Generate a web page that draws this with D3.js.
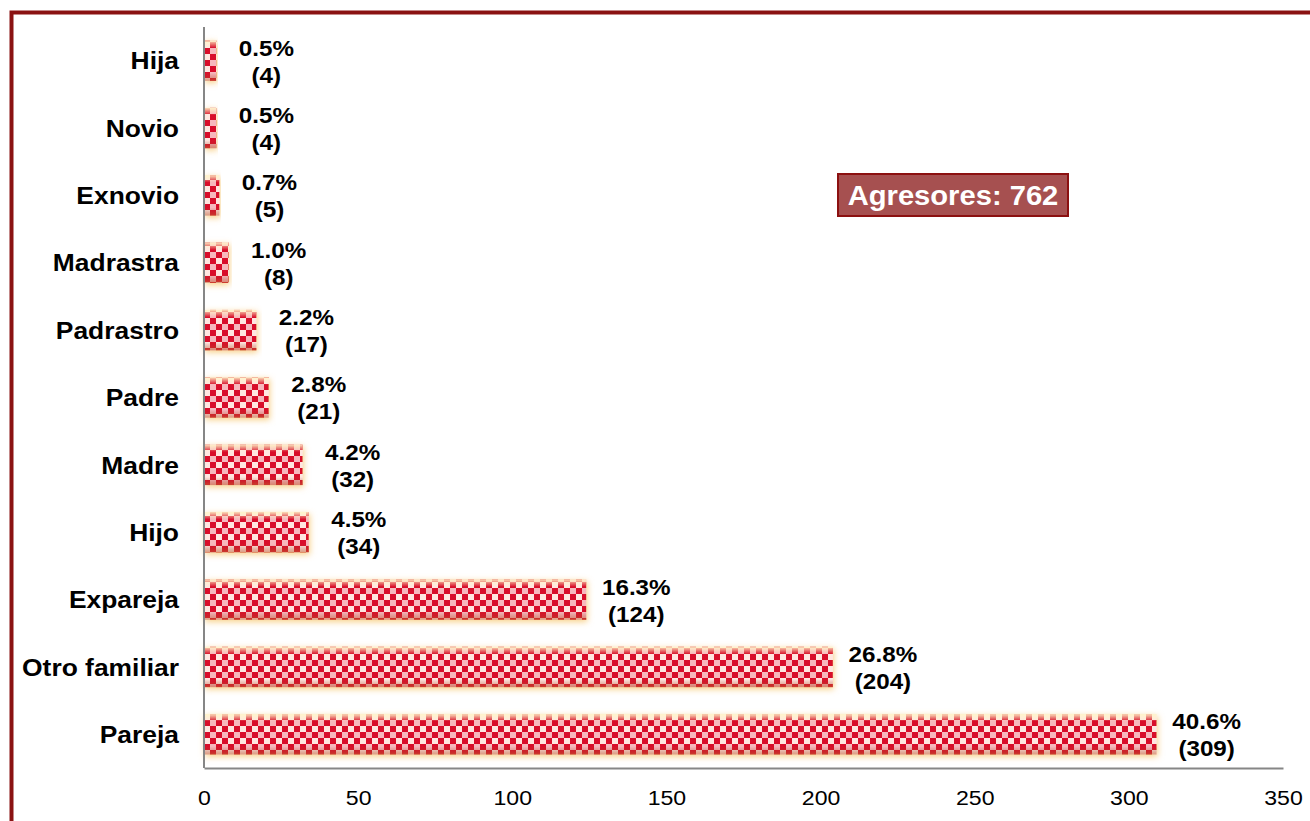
<html>
<head>
  <title>Agresores</title>
  <script src="https://d3js.org/d3.v7.min.js"></script>
  <style>
    body { margin: 0; background: #fff; }
    text { font-family: "Liberation Sans", Arial, sans-serif; }
  </style>
</head>
<body>
  <div id="vis"></div>
  <script type="text/javascript">

    // data
    var categories = ['Pareja', 'Otro familiar', 'Expareja', 'Hijo', 'Madre', 'Padre', 'Padrastro', 'Madrastra', 'Exnovio', 'Novio', 'Hija'];
    var counts = [309, 204, 124, 34, 32, 21, 17, 8, 5, 4, 4];
    var percents = ['40.6%', '26.8%', '16.3%', '4.5%', '4.2%', '2.8%', '2.2%', '1.0%', '0.7%', '0.5%', '0.5%'];
    var xTicks = [0, 50, 100, 150, 200, 250, 300, 350];
    var totalLabel = 'Agresores: 762';

    var data = categories.map(function(c, i) {
      return { name: c, count: counts[i], pct: percents[i] };
    });

    var W = 1310, H = 821;
    var plot = { left: 204, right: 1283, top: 27, bottom: 768 };
    var stretch = 1.1; // the original text is a bit wider than Arial

    var svg = d3.select('#vis').append('svg')
      .attr('width', W)
      .attr('height', H);

    var defs = svg.append('defs');

    // checker pattern for the bars
    var pat = defs.append('pattern')
      .attr('id', 'checker')
      .attr('patternUnits', 'userSpaceOnUse')
      .attr('x', plot.left).attr('y', 0)
      .attr('width', 12).attr('height', 12);
    pat.append('rect').attr('width', 12).attr('height', 12).attr('fill', '#ffe6e0');
    pat.append('rect').attr('x', 0).attr('y', 0).attr('width', 6).attr('height', 6).attr('fill', '#d8112c');
    pat.append('rect').attr('x', 6).attr('y', 6).attr('width', 6).attr('height', 6).attr('fill', '#d8112c');
    pat.append('rect').attr('x', 6).attr('y', 0).attr('width', 6).attr('height', 6).attr('fill', '#f7b8bd');

    var shade = defs.append('linearGradient')
      .attr('id', 'shade')
      .attr('x1', 0).attr('y1', 0).attr('x2', 0).attr('y2', 1);
    shade.append('stop').attr('offset', '0%').attr('stop-color', '#fff6c8').attr('stop-opacity', 0.9);
    shade.append('stop').attr('offset', '18%').attr('stop-color', '#fff6c8').attr('stop-opacity', 0);
    shade.append('stop').attr('offset', '80%').attr('stop-color', '#a03020').attr('stop-opacity', 0);
    shade.append('stop').attr('offset', '100%').attr('stop-color', '#c06030').attr('stop-opacity', 0.55);

    var glow = defs.append('filter')
      .attr('id', 'glow')
      .attr('x', '-10%').attr('y', '-40%').attr('width', '120%').attr('height', '180%');
    glow.append('feFlood').attr('flood-color', '#f6c46a').attr('flood-opacity', 0.8).attr('result', 'c');
    glow.append('feComposite').attr('in', 'c').attr('in2', 'SourceAlpha').attr('operator', 'in').attr('result', 'cs');
    glow.append('feGaussianBlur').attr('in', 'cs').attr('stdDeviation', 3).attr('result', 'b');
    glow.append('feOffset').attr('in', 'b').attr('dx', 1).attr('dy', 2).attr('result', 'bo');
    var merge = glow.append('feMerge');
    merge.append('feMergeNode').attr('in', 'bo');
    merge.append('feMergeNode').attr('in', 'SourceGraphic');

    // frame
    svg.append('rect')
      .attr('x', 11.5).attr('y', 12.5)
      .attr('width', W + 20).attr('height', H + 20)
      .attr('fill', 'none')
      .attr('stroke', '#8a1212')
      .attr('stroke-width', 4);

    // scales
    var x = d3.scaleLinear().domain([0, 350]).range([plot.left, plot.right]);
    var y = d3.scaleBand()
      .domain(categories.slice().reverse())
      .range([plot.top, plot.bottom])
      .paddingInner(0.4)
      .paddingOuter(0.2);

    // bars
    var bars = svg.selectAll('g.bar')
      .data(data)
      .enter().append('g')
      .attr('class', 'bar')
      .attr('filter', 'url(#glow)');

    bars.append('rect')
      .attr('x', x(0))
      .attr('y', function(d) { return y(d.name); })
      .attr('width', function(d) { return x(d.count) - x(0); })
      .attr('height', y.bandwidth())
      .attr('fill', 'url(#checker)');

    bars.append('rect')
      .attr('x', x(0))
      .attr('y', function(d) { return y(d.name); })
      .attr('width', function(d) { return x(d.count) - x(0); })
      .attr('height', y.bandwidth())
      .attr('fill', 'url(#shade)');

    // axes
    var xAxis = d3.axisBottom(x).tickValues(xTicks).tickSize(0).tickPadding(22);
    var gx = svg.append('g')
      .attr('transform', 'translate(0,' + plot.bottom + ')')
      .call(xAxis);
    gx.select('.domain').attr('stroke', '#868686').attr('stroke-width', 2);
    gx.selectAll('text')
      .attr('fill', '#000')
      .attr('transform', 'scale(' + stretch + ',1)')
      .attr('x', function(d) { return 0; })
      .style('font-size', '21px')
      .style('font-family', '"Liberation Sans", Arial, sans-serif');

    svg.append('line')
      .attr('x1', plot.left).attr('x2', plot.left)
      .attr('y1', plot.top).attr('y2', plot.bottom)
      .attr('stroke', '#868686')
      .attr('stroke-width', 2);

    // category labels
    svg.selectAll('text.cat')
      .data(data)
      .enter().append('text')
      .attr('class', 'cat')
      .attr('transform', function(d) {
        return 'translate(179,' + (y(d.name) + y.bandwidth() / 2) + ') scale(' + stretch + ',1)';
      })
      .attr('dy', '0.36em')
      .attr('text-anchor', 'end')
      .style('font-size', '24px')
      .style('font-weight', 'bold')
      .text(function(d) { return d.name; });

    // value labels
    var vl = svg.selectAll('text.val')
      .data(data)
      .enter().append('text')
      .attr('class', 'val')
      .attr('transform', function(d) {
        return 'translate(' + (x(d.count) + 50) + ',' + (y(d.name) + y.bandwidth() / 2) + ') scale(' + stretch + ',1)';
      })
      .attr('text-anchor', 'middle')
      .style('font-size', '22px')
      .style('font-weight', 'bold');

    vl.append('tspan')
      .attr('x', 0)
      .attr('y', -13)
      .attr('dy', '0.36em')
      .text(function(d) { return d.pct; });

    vl.append('tspan')
      .attr('x', 0)
      .attr('y', 14)
      .attr('dy', '0.36em')
      .text(function(d) { return '(' + d.count + ')'; });

    // total box
    var box = svg.append('g').attr('transform', 'translate(838,174)');
    box.append('rect')
      .attr('width', 230).attr('height', 42)
      .attr('fill', '#a65050')
      .attr('stroke', '#8c1010')
      .attr('stroke-width', 2);
    box.append('text')
      .attr('transform', 'translate(115,21) scale(1.08,1)')
      .attr('dy', '0.36em')
      .attr('text-anchor', 'middle')
      .attr('fill', '#fff')
      .style('font-size', '27px')
      .style('font-weight', 'bold')
      .text(totalLabel);

  </script>
</body>
</html>
